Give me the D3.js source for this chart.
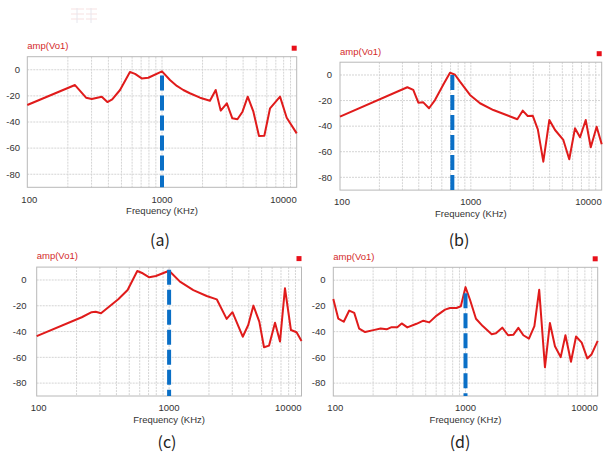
<!DOCTYPE html>
<html><head><meta charset="utf-8">
<script src="https://cdn.jsdelivr.net/npm/d3@7"></script>
<style>
html,body{margin:0;padding:0;background:#fff;}
svg{display:block;font-family:"Liberation Sans",Arial,sans-serif;}
</style></head>
<body>
<svg id="chart" width="603" height="455"></svg>
<script>
// ---- data (frequency in kHz, amplitude in dB) ----
const aFreq = [100,226,273,301,357,393,427,488,578,631,707,791,1000,1146,1289,1439,1610,1915,2270,2504,2728,3030,3327,3630,3960,4330,4770,5250,5750,6340,7520,8430,10000];
const aAmp  = [-27,-11.7,-21.4,-22.4,-20.6,-24.7,-22.6,-15.5,-1.7,-3.2,-6.6,-6.1,-1.2,-7.8,-12.4,-15.5,-18,-21.4,-23.7,-15.5,-31.3,-25.7,-37.2,-37.9,-32.1,-20.6,-32.1,-50.7,-50.5,-29.5,-20.6,-36.7,-48.7];

const bFreq = [100,327,363,397,433,479,532,624,693,757,826,985,1175,1486,2266,2490,2720,2970,3250,3580,3980,4400,5090,5650,6250,6830,7550,8250,9150,10000];
const bAmp  = [-32.6,-9.6,-11.7,-21.7,-21.4,-26,-19.6,-6.5,1.8,0.2,-5.2,-15.6,-22.1,-27.4,-34.6,-27.9,-32.1,-31.8,-42.5,-67.8,-35.2,-43,-50.8,-65.9,-41.7,-48.7,-35.2,-56.5,-40.4,-54.2];

const cFreq = [100,219,260,279,306,413,486,575,632,708,795,1000,1208,1524,1923,2290,2720,3010,3600,3960,4330,4800,5210,5690,6310,6880,7500,8320,9180,10000];
const cAmp  = [-43.6,-28.9,-25,-24.6,-25.8,-15,-7.8,7,5.2,2.1,3.1,7.2,-1.3,-7.8,-12.4,-15,-30.2,-25,-44,-34.9,-19.9,-32.3,-52.2,-50.9,-33.1,-47.8,-6.4,-38.8,-40.5,-47.3];

const dFreq = [100,109,120,132,144,157,174,201,228,253,276,305,329,363,426,480,532,605,700,763,855,922,1000,1080,1200,1350,1578,1700,1897,2100,2300,2510,2740,3020,3320,3610,3990,4350,4750,5250,5700,6280,6860,7570,8340,9000,10000];
const dAmp  = [-14.6,-29.8,-32.3,-23.6,-25.4,-37.7,-40.3,-38.8,-37.5,-38.2,-36.5,-36.5,-33.6,-36.7,-33.9,-31.5,-32.8,-27.5,-22.9,-21.6,-21.6,-20.3,-5.4,-15,-30,-35.7,-42,-41.3,-36.9,-42.8,-42.5,-37.1,-42.8,-45.4,-35.7,-7.5,-67.7,-33.3,-51.3,-59.8,-42.8,-63.4,-43.8,-48.5,-60.8,-57.5,-47.2];

const markerFreq = [1000, 722, 1000, 1000];   // blue dashed marker position (kHz)
const markerTop  = [-4.4, 0, 8, -10.2];       // top of blue marker (dB)

const yTicks = [0,-20,-40,-60,-80];
const xTickLabels = [100,1000,10000];
const yDomain = [-90, 10];
const xDomain = [100, 10000];
const panelLetters = ["(a)","(b)","(c)","(d)"];
const seriesTitle = "amp(Vo1)";
const xTitle = "Frequency (KHz)";

// ---- layout ----
const panels = [
  {f:aFreq, v:aAmp, L:27.3, R:296.7, T:56.7, B:187.3, ylab:20, lx:160, ly:240},
  {f:bFreq, v:bAmp, L:340,  R:601.7, T:62.2, B:190.1, ylab:332, lx:459, ly:240},
  {f:cFreq, v:cAmp, L:36.7, R:301.5, T:267.1,B:396,   ylab:26.5, lx:167, ly:442},
  {f:dFreq, v:dAmp, L:333.3,R:597.7, T:267.3,B:396,   ylab:325.5, lx:460, ly:442}
];

const svg = d3.select("#chart");

// faint thumbnail artifact at top
const th = svg.append("g").attr("opacity",0.3);
[[71,9,84,9],[71,14,84,14],[86,9,97,9],[86,14,97,14],[71,19,84,19],[86,19,97,19]].forEach(l=>{
  th.append("line").attr("x1",l[0]).attr("y1",l[1]).attr("x2",l[2]).attr("y2",l[3])
    .attr("stroke","#e8a0a0").attr("stroke-width",1);
});
[[77,8,77,23],[91,8,91,23]].forEach(l=>{
  th.append("line").attr("x1",l[0]).attr("y1",l[1]).attr("x2",l[2]).attr("y2",l[3])
    .attr("stroke","#b0b0c8").attr("stroke-width",1);
});

const minorFreqs = [];
for (let dec of [100,1000]) for (let k=2;k<=9;k++) minorFreqs.push(dec*k);
minorFreqs.push(1000);

const fs = 9.5;

panels.forEach((p,i)=>{
  const x = d3.scaleLog().domain(xDomain).range([p.L,p.R]);
  const y = d3.scaleLinear().domain(yDomain).range([p.B,p.T]);
  const g = svg.append("g");

  // grid
  g.selectAll(".vg").data(minorFreqs).join("line")
    .attr("x1",d=>x(d)).attr("x2",d=>x(d)).attr("y1",p.T).attr("y2",p.B)
    .attr("stroke","#d4d4d4").attr("stroke-width",1).attr("stroke-dasharray","2,1");
  g.selectAll(".hg").data(yTicks).join("line")
    .attr("x1",p.L).attr("x2",p.R).attr("y1",d=>y(d)).attr("y2",d=>y(d))
    .attr("stroke","#d4d4d4").attr("stroke-width",1).attr("stroke-dasharray","2,1");

  // frame
  g.append("rect").attr("x",p.L).attr("y",p.T).attr("width",p.R-p.L).attr("height",p.B-p.T)
    .attr("fill","none").attr("stroke","#b8b8b8").attr("stroke-width",1);

  // y tick labels
  g.selectAll(".yl").data(yTicks).join("text")
    .attr("x",p.ylab).attr("y",d=>y(d)).attr("dy","0.35em")
    .attr("text-anchor","end").attr("font-size",fs).attr("fill","#333")
    .text(d=>d);

  // x tick labels
  g.selectAll(".xl").data(xTickLabels).join("text")
    .attr("x",(d,j)=> j===xTickLabels.length-1 ? p.R : x(d)+ (j===0?2:0))
    .attr("y",p.B+12).attr("dy","0.35em")
    .attr("text-anchor",(d,j)=> j===xTickLabels.length-1 ? "end" : "middle")
    .attr("font-size",fs).attr("fill","#333").text(d=>d);

  // axis title
  g.append("text").attr("x",(p.L+p.R)/2).attr("y",p.B+23.5).attr("dy","0.35em")
    .attr("text-anchor","middle").attr("font-size",fs).attr("fill","#333").text(xTitle);

  // series title
  g.append("text").attr("x",p.L).attr("y",p.T-11).attr("dy","0.35em")
    .attr("font-size",fs).attr("fill","#d42a2a").text(seriesTitle);
  g.append("rect").attr("x",p.R-5).attr("y",p.T-11).attr("width",5).attr("height",5)
    .attr("fill","#e8101a");

  // red curve
  const data = p.f.map((f,j)=>[f,p.v[j]]);
  g.append("path").datum(data)
    .attr("d",d3.line().x(d=>x(d[0])).y(d=>y(d[1])))
    .attr("fill","none").attr("stroke","#e01b1b").attr("stroke-width",2)
    .attr("stroke-linejoin","round");

  // blue dashed marker
  g.append("line").attr("x1",x(markerFreq[i])).attr("x2",x(markerFreq[i]))
    .attr("y1",y(markerTop[i])).attr("y2",p.B)
    .attr("stroke","#0a6fc6").attr("stroke-width",4)
    .attr("stroke-dasharray","15,5");

  // panel letter
  svg.append("text").attr("x",p.lx).attr("y",p.ly).attr("dy","0.35em")
    .attr("text-anchor","middle").attr("font-size",16).attr("fill","#222")
    .attr("font-family","'Noto Sans CJK KR','Noto Sans',sans-serif")
    .text(panelLetters[i]);
});
</script>
</body></html>
